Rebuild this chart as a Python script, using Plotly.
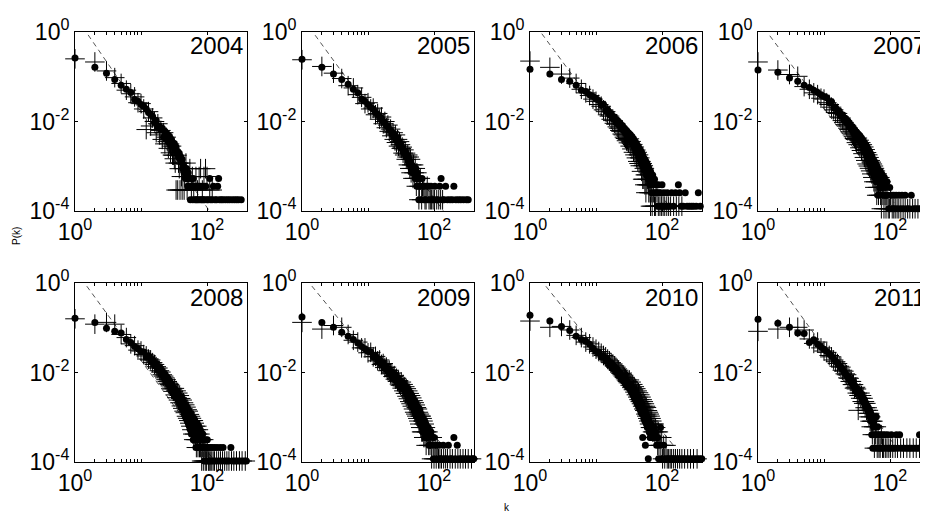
import plotly.graph_objects as go

years = ["2004", "2005", "2006", "2007", "2008", "2009", "2010", "2011"]

# degree k = 1..30 (shared x grid for the head of every distribution)
k_head = [1, 2, 3, 4, 5, 6, 7, 8, 9, 10, 11, 12, 13, 14, 15,
          16, 17, 18, 19, 20, 21, 22, 23, 24, 25, 26, 27, 28, 29, 30]

# total node counts (P = count / N for the tails)
N_dots = [5600, 5600, 7800, 8900, 9500, 8500, 8500, 4900]
N_plus = [3400, 5600, 7800, 8900, 9500, 8500, 8500, 4900]

# ---- log10 P(k) for k = 1..30 -------------------------------------------
logp_dots_2004 = [-0.58, -0.79, -0.92, -1.06, -1.19, -1.28, -1.35, -1.51, -1.55, -1.62,
                  -1.66, -1.72, -1.80, -1.84, -1.89, -2.02, -1.98, -2.12, -2.10, -2.18,
                  -2.15, -2.35, -2.22, -2.38, -2.28, -2.45, -2.33, -2.52, -2.40, -2.47]
logp_plus_2004 = [-0.60, -0.67, -0.87, -1.02, -1.15, -1.30, -1.38, -1.45, -1.58, -1.60,
                  -1.72, -2.18, -1.78, -2.10, -1.92, -2.00, -2.25, -2.05, -2.30, -2.20,
                  -2.40, -2.25, -2.50, -2.35, -2.45, -2.60, -2.50, -2.70, -2.55, -2.75]
logp_dots_2005 = [-0.61, -0.79, -0.94, -1.06, -1.17, -1.28, -1.36, -1.50, -1.55, -1.62,
                  -1.68, -1.72, -1.80, -1.84, -1.91, -1.93, -2.00, -2.03, -2.09, -2.11,
                  -2.18, -2.20, -2.28, -2.26, -2.35, -2.32, -2.42, -2.38, -2.50, -2.47]
logp_plus_2005 = [-0.62, -0.77, -0.92, -1.04, -1.20, -1.25, -1.40, -1.46, -1.60, -1.58,
                  -1.72, -1.70, -1.85, -1.82, -1.95, -1.90, -2.05, -2.00, -2.14, -2.08,
                  -2.22, -2.17, -2.32, -2.25, -2.40, -2.30, -2.47, -2.40, -2.55, -2.45]
logp_dots_2006 = [-0.83, -0.94, -1.06, -1.10, -1.19, -1.30, -1.33, -1.40, -1.44, -1.50,
                  -1.53, -1.64, -1.62, -1.76, -1.74, -1.85, -1.82, -1.94, -1.90, -2.02,
                  -1.97, -2.07, -2.03, -2.16, -2.09, -2.20, -2.15, -2.26, -2.20, -2.32]
logp_plus_2006 = [-0.65, -0.79, -0.94, -1.03, -1.15, -1.28, -1.36, -1.42, -1.50, -1.55,
                  -1.62, -1.66, -1.74, -1.78, -1.85, -1.88, -1.95, -1.98, -2.04, -2.06,
                  -2.12, -2.15, -2.20, -2.22, -2.28, -2.30, -2.35, -2.38, -2.43, -2.40]
logp_dots_2007 = [-0.85, -0.90, -1.03, -1.10, -1.19, -1.24, -1.30, -1.35, -1.40, -1.44,
                  -1.47, -1.58, -1.56, -1.70, -1.69, -1.80, -1.77, -1.88, -1.85, -1.97,
                  -1.93, -2.03, -1.99, -2.11, -2.06, -2.18, -2.12, -2.25, -2.18, -2.31]
logp_plus_2007 = [-0.67, -0.85, -0.95, -0.99, -1.22, -1.28, -1.36, -1.40, -1.48, -1.50,
                  -1.58, -1.62, -1.68, -1.74, -1.80, -1.82, -1.90, -1.92, -1.98, -2.02,
                  -2.07, -2.10, -2.15, -2.18, -2.23, -2.26, -2.30, -2.34, -2.38, -2.40]
logp_dots_2008 = [-0.79, -0.88, -1.01, -1.08, -1.12, -1.26, -1.33, -1.42, -1.47, -1.53,
                  -1.54, -1.66, -1.62, -1.75, -1.71, -1.85, -1.80, -1.95, -1.89, -2.04,
                  -1.97, -2.12, -2.04, -2.19, -2.11, -2.27, -2.18, -2.33, -2.25, -2.40]
logp_plus_2008 = [-0.80, -0.92, -0.88, -0.92, -1.15, -1.22, -1.36, -1.40, -1.50, -1.52,
                  -1.60, -1.63, -1.70, -1.72, -1.78, -1.82, -1.87, -1.90, -1.96, -1.99,
                  -2.05, -2.08, -2.12, -2.16, -2.20, -2.24, -2.27, -2.30, -2.35, -2.37]
logp_dots_2009 = [-0.76, -0.88, -0.99, -1.10, -1.19, -1.26, -1.34, -1.42, -1.47, -1.53,
                  -1.54, -1.65, -1.62, -1.75, -1.71, -1.84, -1.78, -1.91, -1.86, -1.98,
                  -1.93, -2.05, -1.99, -2.11, -2.05, -2.17, -2.11, -2.22, -2.16, -2.28]
logp_plus_2009 = [-0.88, -1.03, -0.95, -0.99, -1.15, -1.28, -1.32, -1.45, -1.45, -1.56,
                  -1.55, -1.65, -1.64, -1.74, -1.72, -1.82, -1.80, -1.89, -1.88, -1.96,
                  -1.95, -2.03, -2.01, -2.09, -2.07, -2.15, -2.13, -2.20, -2.18, -2.26]
logp_dots_2010 = [-0.72, -0.85, -0.97, -1.06, -1.19, -1.26, -1.30, -1.37, -1.46, -1.53,
                  -1.54, -1.65, -1.62, -1.74, -1.71, -1.84, -1.78, -1.91, -1.86, -1.98,
                  -1.93, -2.06, -2.00, -2.13, -2.07, -2.19, -2.13, -2.26, -2.19, -2.32]
logp_plus_2010 = [-0.85, -0.99, -0.97, -1.05, -1.17, -1.22, -1.32, -1.36, -1.43, -1.48,
                  -1.53, -1.57, -1.62, -1.65, -1.70, -1.74, -1.78, -1.81, -1.85, -1.88,
                  -1.92, -1.95, -1.99, -2.02, -2.05, -2.08, -2.11, -2.14, -2.17, -2.20]
logp_dots_2011 = [-0.81, -0.90, -0.99, -1.12, -1.13, -1.33, -1.27, -1.37, -1.43, -1.48,
                  -1.53, -1.58, -1.63, -1.70, -1.75, -1.79, -1.84, -1.88, -1.93, -1.98,
                  -2.02, -2.06, -2.10, -2.14, -2.18, -2.22, -2.25, -2.28, -2.31, -2.34]
logp_plus_2011 = [-1.08, -1.03, -0.99, -0.99, -1.05, -1.25, -1.35, -1.32, -1.45, -1.52,
                  -1.55, -1.62, -1.65, -1.72, -1.76, -1.80, -1.86, -1.88, -1.95, -1.97,
                  -2.03, -2.05, -2.12, -2.13, -2.20, -2.20, -2.27, -2.27, -2.35, -2.33]

# ---- tails: (k, count) pairs ---------------------------------------------
tail_dots_2004 = [(31, 16), (32, 18), (33, 13), (34, 15), (35, 11), (36, 12), (37, 9), (38, 11), (39, 8), (40, 9),
                  (41, 7), (42, 8), (43, 5), (44, 6), (45, 4), (46, 5), (47, 3), (48, 4), (49, 5), (50, 3),
                  (51, 2), (52, 4), (53, 3), (54, 2), (55, 2), (56, 1), (57, 3), (58, 2), (60, 2), (61, 1),
                  (62, 3), (64, 2), (66, 1), (67, 2), (69, 1), (70, 2), (72, 1), (74, 2), (76, 1), (79, 2),
                  (81, 1), (84, 1), (86, 2), (88, 1), (92, 1), (96, 2), (100, 1), (104, 1), (110, 3), (113, 1),
                  (120, 1), (125, 2), (132, 1), (140, 1), (145, 2), (150, 3), (155, 1), (165, 1), (175, 1),
                  (190, 1), (205, 1), (220, 1), (240, 1), (260, 1), (280, 1), (300, 1), (330, 1)]
tail_plus_2004 = [(31, 6), (32, 5), (33, 4), (34, 1), (35, 6), (36, 1), (37, 4), (38, 3), (39, 1), (40, 4),
                  (41, 2), (42, 1), (44, 3), (45, 1), (46, 2), (48, 4), (50, 1), (52, 2), (55, 3), (58, 1),
                  (60, 2), (63, 1), (68, 2), (72, 1), (76, 2), (80, 3), (85, 1), (90, 2), (95, 3), (100, 2),
                  (110, 1), (120, 1)]
tail_dots_2005 = [(31, 18), (32, 15), (33, 14), (34, 13), (35, 12), (36, 11), (37, 12), (38, 9), (39, 10), (40, 9),
                  (41, 7), (42, 8), (43, 6), (44, 7), (45, 5), (46, 6), (47, 4), (48, 5), (49, 5), (50, 4),
                  (51, 4), (52, 3), (53, 5), (54, 3), (55, 2), (56, 4), (57, 3), (58, 2), (59, 1), (60, 3),
                  (61, 2), (63, 2), (64, 1), (66, 3), (68, 2), (70, 1), (72, 2), (74, 1), (77, 2), (80, 1),
                  (83, 2), (86, 1), (90, 2), (94, 1), (98, 1), (103, 2), (108, 1), (115, 1), (122, 2), (128, 3),
                  (135, 1), (142, 1), (150, 2), (160, 1), (175, 1), (190, 1), (200, 2), (215, 1), (235, 1),
                  (255, 1), (280, 1), (310, 1), (330, 1)]
tail_plus_2005 = [(31, 17), (32, 14), (33, 15), (34, 11), (35, 13), (36, 10), (37, 11), (38, 8), (39, 9), (40, 10),
                  (41, 6), (42, 9), (43, 5), (44, 8), (45, 4), (46, 6), (47, 5), (48, 3), (49, 6), (50, 4),
                  (51, 3), (52, 5), (54, 2), (55, 4), (57, 3), (59, 1), (60, 2), (62, 3), (65, 1), (67, 2),
                  (70, 2), (73, 1), (76, 1), (79, 2), (84, 1), (88, 1), (92, 1), (97, 1), (102, 1), (110, 1),
                  (118, 1), (126, 1), (135, 1)]
tail_dots_2006 = [(31, 44), (32, 34), (33, 40), (34, 29), (35, 36), (36, 24), (37, 32), (38, 21), (39, 28), (40, 18),
                  (41, 25), (42, 16), (43, 22), (44, 14), (45, 20), (46, 12), (47, 18), (48, 10), (49, 16), (50, 9),
                  (51, 14), (52, 8), (53, 12), (54, 7), (55, 11), (56, 6), (57, 10), (58, 5), (59, 9), (60, 6),
                  (61, 8), (62, 4), (63, 7), (64, 5), (65, 6), (66, 3), (67, 6), (68, 3), (69, 5), (70, 2),
                  (72, 5), (73, 3), (74, 4), (76, 2), (77, 4), (79, 3), (80, 2), (82, 3), (84, 2), (86, 1),
                  (88, 3), (90, 2), (92, 1), (95, 2), (98, 1), (100, 3), (103, 1), (107, 2), (110, 1), (115, 1),
                  (120, 2), (125, 1), (130, 1), (140, 2), (150, 1), (160, 2), (177, 3), (185, 2), (195, 1),
                  (210, 1), (225, 2), (240, 1), (260, 1), (280, 1), (300, 1), (330, 1), (355, 2), (380, 1)]
tail_plus_2006 = [(31, 26), (32, 32), (33, 22), (34, 28), (35, 19), (36, 24), (37, 16), (38, 21), (39, 14), (40, 18),
                  (41, 12), (42, 16), (43, 10), (44, 14), (45, 9), (46, 12), (47, 8), (48, 10), (49, 6), (50, 9),
                  (51, 4), (52, 8), (53, 4), (54, 7), (55, 3), (56, 5), (57, 2), (58, 5), (59, 3), (60, 4),
                  (62, 3), (63, 2), (64, 3), (66, 2), (67, 1), (68, 3), (70, 2), (71, 1), (74, 2), (77, 1),
                  (80, 1), (84, 2), (88, 1), (93, 1), (98, 1), (104, 1), (110, 1), (118, 1), (126, 1), (135, 1),
                  (150, 1), (165, 1), (180, 1), (200, 1)]
tail_dots_2007 = [(31, 52), (32, 40), (33, 47), (34, 35), (35, 43), (36, 30), (37, 38), (38, 26), (39, 34), (40, 21),
                  (41, 30), (42, 18), (43, 27), (44, 16), (45, 24), (46, 13), (47, 21), (48, 11), (49, 19), (50, 10),
                  (51, 17), (52, 8), (53, 15), (54, 7), (55, 13), (56, 6), (57, 12), (58, 5), (59, 11), (60, 6),
                  (61, 10), (62, 4), (63, 9), (64, 5), (65, 8), (66, 2), (67, 7), (68, 4), (69, 6), (70, 3),
                  (71, 7), (72, 3), (73, 5), (74, 2), (75, 6), (77, 3), (78, 4), (80, 2), (82, 5), (84, 2),
                  (86, 3), (87, 4), (88, 2), (90, 4), (93, 2), (96, 1), (99, 3), (102, 1), (106, 2), (110, 1),
                  (114, 2), (118, 1), (124, 2), (130, 1), (137, 2), (145, 1), (152, 2), (160, 1), (170, 2),
                  (180, 1), (195, 1), (210, 2), (225, 1), (245, 1), (265, 1), (290, 1), (320, 1), (350, 1), (375, 1)]
tail_plus_2007 = [(31, 30), (32, 38), (33, 27), (34, 34), (35, 23), (36, 30), (37, 20), (38, 27), (39, 17), (40, 24),
                  (41, 14), (42, 21), (43, 12), (44, 18), (45, 10), (46, 16), (47, 9), (48, 14), (49, 8), (50, 12),
                  (51, 7), (52, 11), (53, 6), (54, 10), (55, 5), (56, 9), (57, 4), (58, 8), (59, 3), (60, 7),
                  (61, 4), (62, 6), (63, 2), (64, 6), (65, 3), (66, 5), (67, 2), (68, 4), (69, 3), (70, 5),
                  (72, 2), (73, 4), (74, 1), (76, 3), (78, 2), (79, 3), (81, 1), (84, 2), (87, 1), (90, 2),
                  (94, 1), (98, 1), (102, 2), (108, 1), (114, 1), (120, 1), (128, 1), (136, 1), (146, 1),
                  (158, 1), (170, 1), (185, 1), (200, 1), (220, 1), (240, 1), (265, 1), (290, 1), (330, 1), (360, 1)]
tail_dots_2008 = [(31, 44), (32, 33), (33, 40), (34, 27), (35, 36), (36, 24), (37, 31), (38, 20), (39, 28), (40, 17),
                  (41, 26), (42, 15), (43, 22), (44, 13), (45, 20), (46, 11), (47, 18), (48, 9), (49, 16), (50, 8),
                  (51, 14), (52, 7), (53, 13), (54, 6), (55, 12), (56, 5), (57, 11), (58, 4), (59, 10), (60, 5),
                  (61, 9), (62, 3), (63, 9), (64, 4), (65, 8), (66, 3), (67, 7), (68, 2), (69, 6), (70, 3),
                  (71, 7), (72, 2), (73, 5), (74, 3), (75, 6), (76, 2), (77, 4), (78, 2), (79, 5), (80, 3),
                  (81, 2), (82, 4), (84, 3), (85, 2), (86, 4), (88, 2), (90, 3), (91, 1), (93, 2), (95, 3),
                  (97, 1), (99, 2), (101, 3), (104, 1), (106, 2), (109, 1), (112, 2), (116, 1), (120, 2),
                  (125, 1), (130, 2), (136, 1), (142, 2), (150, 1), (158, 2), (165, 1), (175, 2), (185, 1),
                  (200, 1), (215, 1), (230, 2), (245, 1), (265, 1), (285, 1), (310, 1), (340, 1), (370, 1), (395, 1)]
tail_plus_2008 = [(31, 36), (32, 42), (33, 30), (34, 37), (35, 26), (36, 33), (37, 23), (38, 29), (39, 20), (40, 25),
                  (41, 17), (42, 23), (43, 15), (44, 20), (45, 13), (46, 18), (47, 12), (48, 16), (49, 10), (50, 14),
                  (51, 9), (52, 13), (53, 8), (54, 11), (55, 7), (56, 10), (57, 6), (58, 9), (59, 5), (60, 8),
                  (61, 4), (62, 8), (63, 3), (64, 7), (65, 4), (66, 6), (67, 3), (68, 5), (69, 2), (70, 6),
                  (71, 3), (72, 4), (73, 2), (74, 5), (76, 3), (77, 2), (78, 4), (80, 2), (81, 3), (83, 1),
                  (84, 3), (86, 2), (88, 1), (89, 3), (91, 2), (94, 1), (96, 2), (98, 1), (101, 2), (105, 1),
                  (108, 1), (112, 1), (118, 1), (124, 1), (130, 1), (140, 1), (150, 1), (160, 1), (172, 1),
                  (185, 1), (200, 1), (215, 1), (235, 1), (255, 1), (280, 1), (310, 1), (340, 1), (380, 1)]
tail_dots_2009 = [(31, 55), (32, 42), (33, 50), (34, 37), (35, 46), (36, 32), (37, 42), (38, 28), (39, 37), (40, 24),
                  (41, 33), (42, 21), (43, 30), (44, 18), (45, 27), (46, 16), (47, 24), (48, 14), (49, 21), (50, 12),
                  (51, 19), (52, 11), (53, 17), (54, 10), (55, 15), (56, 9), (57, 14), (58, 8), (59, 13), (60, 7),
                  (61, 12), (62, 6), (63, 10), (64, 6), (65, 9), (66, 5), (67, 8), (68, 4), (69, 8), (70, 4),
                  (72, 7), (73, 3), (75, 6), (76, 3), (78, 5), (80, 3), (82, 5), (84, 2), (86, 4), (88, 2),
                  (90, 4), (92, 2), (95, 3), (98, 1), (100, 3), (103, 2), (107, 1), (110, 2), (115, 1), (120, 2),
                  (125, 1), (130, 1), (138, 2), (145, 1), (155, 1), (165, 2), (175, 1), (185, 1), (200, 3),
                  (210, 1), (225, 2), (240, 1), (260, 1), (285, 1), (310, 1), (340, 1), (380, 1), (400, 1)]
tail_plus_2009 = [(31, 44), (32, 52), (33, 38), (34, 46), (35, 33), (36, 41), (37, 29), (38, 37), (39, 25), (40, 33),
                  (41, 22), (42, 29), (43, 19), (44, 26), (45, 17), (46, 23), (47, 15), (48, 20), (49, 13), (50, 18),
                  (51, 11), (52, 16), (53, 10), (54, 14), (55, 9), (56, 13), (57, 8), (58, 11), (59, 7), (60, 10),
                  (61, 6), (62, 9), (63, 5), (64, 9), (65, 4), (66, 8), (67, 4), (68, 7), (70, 3), (71, 6),
                  (73, 3), (74, 5), (76, 2), (77, 4), (79, 3), (81, 4), (83, 2), (85, 3), (87, 2), (89, 3),
                  (92, 1), (94, 3), (97, 2), (100, 1), (104, 2), (108, 1), (112, 2), (117, 1), (123, 1), (130, 1),
                  (140, 1), (150, 1), (160, 1), (175, 1), (190, 1), (210, 1), (230, 1), (250, 1), (275, 1),
                  (300, 1), (330, 1), (370, 1)]
tail_dots_2010 = [(31, 48), (32, 38), (33, 45), (34, 32), (35, 40), (36, 27), (37, 35), (38, 23), (39, 31), (40, 20),
                  (41, 27), (42, 17), (43, 24), (44, 15), (45, 21), (46, 13), (47, 19), (48, 11), (49, 17), (50, 10),
                  (51, 3), (52, 13), (53, 8), (54, 12), (55, 7), (56, 2), (57, 10), (58, 6), (59, 9), (60, 5),
                  (61, 8), (62, 1), (63, 7), (64, 4), (65, 6), (66, 3), (67, 6), (68, 3), (70, 5), (72, 3),
                  (74, 4), (76, 5), (78, 3), (80, 4), (83, 2), (86, 3), (89, 1), (92, 2), (95, 5), (98, 1),
                  (102, 1), (106, 2), (110, 1), (116, 1), (122, 1), (130, 1), (138, 1), (146, 1), (155, 1),
                  (165, 1), (178, 1), (190, 1), (205, 1), (220, 1), (240, 1), (260, 1), (285, 1), (310, 1),
                  (340, 1), (370, 1), (400, 1)]
tail_plus_2010 = [(31, 50), (32, 58), (33, 44), (34, 52), (35, 39), (36, 46), (37, 35), (38, 41), (39, 31), (40, 37),
                  (41, 27), (42, 33), (43, 24), (44, 30), (45, 21), (46, 27), (47, 19), (48, 24), (49, 17), (50, 21),
                  (51, 15), (52, 19), (53, 13), (54, 17), (55, 12), (56, 15), (57, 10), (58, 14), (59, 9), (60, 12),
                  (61, 8), (62, 11), (63, 7), (64, 10), (65, 6), (66, 9), (67, 5), (68, 8), (69, 5), (70, 7),
                  (72, 4), (73, 6), (75, 4), (76, 6), (78, 3), (80, 5), (82, 3), (84, 4), (86, 2), (88, 4),
                  (90, 2), (93, 3), (96, 2), (99, 3), (102, 1), (106, 2), (110, 1), (115, 2), (120, 1), (126, 1),
                  (133, 1), (140, 1), (150, 1), (160, 1), (172, 1), (185, 1), (200, 1), (220, 1), (245, 1),
                  (270, 1), (300, 1), (340, 1)]
tail_dots_2011 = [(31, 22), (32, 19), (33, 20), (34, 17), (35, 18), (36, 14), (37, 16), (38, 12), (39, 13), (40, 11),
                  (41, 12), (42, 9), (43, 10), (44, 8), (45, 9), (46, 7), (47, 8), (48, 6), (49, 7), (50, 5),
                  (51, 6), (52, 4), (53, 2), (54, 5), (55, 1), (56, 3), (57, 4), (58, 2), (59, 3), (60, 1),
                  (62, 5), (63, 2), (65, 3), (66, 1), (68, 2), (70, 1), (72, 2), (75, 1), (78, 2), (80, 1),
                  (84, 2), (88, 1), (92, 2), (96, 1), (100, 1), (105, 2), (110, 1), (118, 1), (125, 2), (132, 1),
                  (140, 2), (150, 1), (165, 1), (180, 1), (195, 1), (210, 1), (230, 1), (250, 1), (270, 1),
                  (280, 2), (300, 1)]
tail_plus_2011 = [(31, 21), (32, 17), (33, 7), (34, 15), (35, 17), (36, 13), (37, 15), (38, 11), (39, 13), (40, 10),
                  (41, 11), (42, 8), (43, 10), (44, 7), (45, 8), (46, 6), (47, 7), (48, 5), (49, 6), (50, 4),
                  (51, 5), (52, 3), (53, 4), (54, 2), (55, 4), (57, 3), (58, 1), (60, 2), (62, 3), (64, 1),
                  (66, 2), (68, 1), (71, 1), (74, 2), (77, 1), (80, 1), (85, 1), (90, 1), (96, 1), (102, 1),
                  (110, 1), (120, 1), (130, 1), (145, 1), (160, 1), (180, 1), (200, 1), (225, 1), (250, 1),
                  (280, 1)]

# power-law guide lines P = C k^-gamma (log10 C, gamma, k range)
fit_logc = [0.36, 0.33, 0.32, 0.27, 0.29, 0.20, 0.37, 0.60]
fit_gamma = [2.14, 2.02, 2.00, 1.98, 2.02, 1.80, 1.84, 2.04]
fit_kmin = [1.58, 1.58, 1.51, 1.51, 1.51, 1.41, 1.74, 2.15]
fit_kmax = [108, 138, 120, 115, 118, 150, 150, 110]

head_dots = [logp_dots_2004, logp_dots_2005, logp_dots_2006, logp_dots_2007,
             logp_dots_2008, logp_dots_2009, logp_dots_2010, logp_dots_2011]
head_plus = [logp_plus_2004, logp_plus_2005, logp_plus_2006, logp_plus_2007,
             logp_plus_2008, logp_plus_2009, logp_plus_2010, logp_plus_2011]
tails_dots = [tail_dots_2004, tail_dots_2005, tail_dots_2006, tail_dots_2007,
              tail_dots_2008, tail_dots_2009, tail_dots_2010, tail_dots_2011]
tails_plus = [tail_plus_2004, tail_plus_2005, tail_plus_2006, tail_plus_2007,
              tail_plus_2008, tail_plus_2009, tail_plus_2010, tail_plus_2011]

# ---- layout geometry (window pixels; the page body adds an 8px offset) ----
OFF = 8
W, H = 928 - OFF, 515 - OFF
LEFTS = [75, 302, 530, 758]
TOPS = [32, 283]
PW, PH = 172, 179
PX_PER_DECADE = 66.0


def px(X):
    return (X - OFF) / W


def py(Y):
    return 1 - (Y - OFF) / H


FONT = "Liberation Sans, Arial, sans-serif"
tick_font = dict(family=FONT, size=23, color="black")


def series(head, tail, N):
    xs = list(k_head) + [k for k, n in tail]
    ys = [10 ** v for v in head] + [n / N for k, n in tail]
    return xs, ys


fig = go.Figure()
layout = dict(
    template="none",
    width=W, height=H, margin=dict(l=0, r=0, t=0, b=0, pad=0, autoexpand=False),
    paper_bgcolor="white", plot_bgcolor="white", showlegend=False,
    annotations=[],
)

for i, yr in enumerate(years):
    r, c = divmod(i, 4)
    x0 = LEFTS[c]
    x1 = min(x0 + PW, 928)
    y0 = TOPS[r]
    y1 = y0 + PH
    xa = "x" if i == 0 else f"x{i + 1}"
    ya = "y" if i == 0 else f"y{i + 1}"
    xkey = "xaxis" if i == 0 else f"xaxis{i + 1}"
    ykey = "yaxis" if i == 0 else f"yaxis{i + 1}"

    # power-law guide
    kl = [fit_kmin[i], fit_kmax[i]]
    pl = [10 ** fit_logc[i] * k ** (-fit_gamma[i]) for k in kl]
    fig.add_trace(go.Scatter(x=kl, y=pl, mode="lines", xaxis=xa, yaxis=ya,
                             line=dict(color="#555555", width=1, dash="5px,4px"),
                             hoverinfo="skip"))

    xd, yd = series(head_dots[i], tails_dots[i], N_dots[i])
    fig.add_trace(go.Scatter(x=xd, y=yd, mode="markers", xaxis=xa, yaxis=ya,
                             cliponaxis=False,
                             marker=dict(symbol="circle", size=7, color="black",
                                         line=dict(width=0))))
    xp, yp = series(head_plus[i], tails_plus[i], N_plus[i])
    fig.add_trace(go.Scatter(x=xp, y=yp, mode="markers", xaxis=xa, yaxis=ya,
                             cliponaxis=False,
                             marker=dict(symbol="cross-thin", size=14, color="black",
                                         line=dict(width=1, color="black"))))

    layout[xkey] = dict(
        type="log", domain=[px(x0), min(px(x1), 1.0)], range=[0, (x1 - x0) / PX_PER_DECADE],
        anchor=ya, automargin=False, showline=True, linecolor="black", linewidth=1, mirror="ticks",
        ticks="inside", ticklen=3, tickcolor="black",
        tickmode="array", tickvals=[1, 100],
        ticktext=["10<sup>0</sup>", "10<sup>2</sup>"], tickfont=tick_font,
        showgrid=False, zeroline=False,
        minor=dict(tickmode="array", tickvals=[2, 3, 4, 5, 6, 7, 8, 9, 10],
                   ticks="inside", ticklen=3, tickcolor="black", showgrid=False),
    )
    layout[ykey] = dict(
        type="log", domain=[py(y1), py(y0)], range=[-4, 0],
        anchor=xa, automargin=False, showline=True, linecolor="black", linewidth=1, mirror="ticks",
        ticks="inside", ticklen=3, tickcolor="black",
        tickmode="array", tickvals=[1e-4, 1e-2, 1],
        ticktext=["10<sup>-4</sup>", "10<sup>-2</sup>", "10<sup>0</sup>"], tickfont=tick_font,
        showgrid=False, zeroline=False,
    )
    layout["annotations"].append(dict(
        text=yr, xref="paper", yref="paper", x=px(x0 + 170), y=py(y0 + 14),
        xanchor="right", yanchor="middle", showarrow=False,
        font=dict(family=FONT, size=24, color="black")))

layout["annotations"].append(dict(
    text="P(k)", xref="paper", yref="paper", x=px(16), y=py(236),
    xanchor="center", yanchor="middle", textangle=-90, showarrow=False,
    font=dict(family=FONT, size=10, color="black")))
layout["annotations"].append(dict(
    text="k", xref="paper", yref="paper", x=px(507), y=py(507),
    xanchor="center", yanchor="middle", showarrow=False,
    font=dict(family=FONT, size=10, color="black")))

fig.update_layout(**layout)
fig.write_html("out.html")
